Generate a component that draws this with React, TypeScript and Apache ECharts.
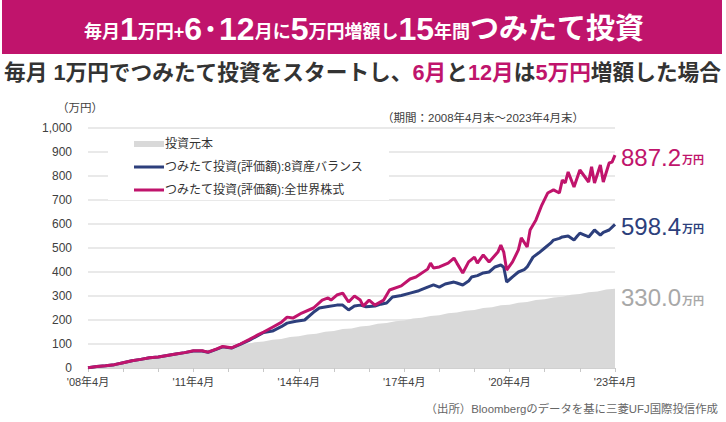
import React, { useEffect, useRef } from "react";
import * as echarts from "echarts";

const FONT = "'Liberation Sans', 'Noto Sans CJK JP', sans-serif";
const PINK = "#C0146C";
const NAVY = "#2D3F7C";
const GRAY_AREA = "#D9D9D9";
const GRAY_LABEL = "#A8A8A8";

// months since 2008/04
const principalMonths = [0,3,6,9,12,15,18,21,24,27,30,33,36,39,42,45,48,51,54,57,60,63,66,69,72,75,78,81,84,87,90,93,96,99,102,105,108,111,114,117,120,123,126,129,132,135,138,141,144,147,150,153,156,159,162,165,168,171,174,177,180];
const principalValues = [0,8,11,19,22,30,33,41,44,52,55,63,66,74,77,85,88,96,99,107,110,118,121,129,132,140,143,151,154,162,165,173,176,184,187,195,198,206,209,217,220,228,231,239,242,250,253,261,264,272,275,283,286,294,297,305,308,316,319,327,330];

const balanceMonths = [0,3,6,9,12,15,18,21,24,27,30,33,36,39,41,44,46,49,52,55,58,60,63,66,68,71,74,77,79,82,85,87,89,91,93,95,98,100,102,104,107,110,113,116,118,120,122,125,126,128,130,131,133,135,137,139,141,142,143,145,147,149,150,152,154,156,158,159,161,162,164,166,167,168,170,171,173,175,176,178,180];
const balanceValues = [1,6,9,14,22,30,36,43,46,52,58,64,71,71,65,79,88,83,98,115,135,148,154,172,187,195,200,232,250,256,262,262,242,258,262,255,258,266,271,296,302,312,322,337,346,337,350,358,354,346,362,379,385,396,400,421,429,420,358,380,400,410,421,462,480,500,520,533,540,546,550,533,548,562,552,546,575,554,565,575,598.4];

const worldMonths = [0,3,6,9,12,15,18,21,24,27,30,33,36,39,41,44,46,49,52,55,58,60,63,66,68,70,73,77,80,82,83,85,87,89,91,93,94,96,98,101,103,107,110,112,116,117,118,120,123,125,126,128,130,132,133,135,137,140,141,142,143,145,147,148,150,151,153,155,157,159,161,162,163,164,166,168,171,172,173,175,176,178,179,180];
const worldValues = [1,6,9,14,22,30,36,43,46,52,58,64,72,72,66,80,90,84,100,118,138,150,170,190,212,208,229,250,283,292,283,304,312,275,300,283,258,283,262,283,325,342,371,379,412,437,417,421,437,458,437,396,442,462,437,471,442,483,512,483,408,442,492,542,504,575,617,679,729,742,729,783,771,817,754,825,775,838,771,846,775,854,858,887.2];

const yTicks = [0, 100, 200, 300, 400, 500, 600, 700, 800, 900, 1000];
const xLabelYears = ["08", "11", "14", "17", "20", "23"];

const seriesNames = [
  "投資元本",
  "つみたて投資(評価額):8資産バランス",
  "つみたて投資(評価額):全世界株式",
];

const pairs = (ms: number[], vs: number[]) => ms.map((m, i) => [m, vs[i]]);

const endLabel = (color: string, offset: number[]) => ({
  show: true,
  distance: 6,
  offset,
  formatter: (p: any) => `{v|${Number(p.value[1]).toFixed(1)}}{u|万円}`,
  rich: {
    v: { fontSize: 24, color, fontFamily: FONT, padding: [0, 1, 0, 0] },
    u: { fontSize: 11, color, fontWeight: "bold", fontFamily: FONT, padding: [6, 0, 0, 0] },
  },
});

const LINE_ICON = "path://M0,0L0.01,0M0,1.5h30v3h-30zM30,6L29.99,6";

export default function App() {
  const ref = useRef<HTMLDivElement>(null);
  useEffect(() => {
    if (!ref.current) return;
    const chart = echarts.init(ref.current, null, { renderer: "svg" });
    chart.setOption({
      animation: false,
      backgroundColor: "#ffffff",
      textStyle: { fontFamily: FONT },
      grid: { left: 88, right: 111, top: 128, bottom: 54, containLabel: false },
      xAxis: {
        type: "value",
        min: 0,
        max: 180,
        interval: 12,
        axisLine: { show: true, lineStyle: { color: "#D0D0D0", width: 1 } },
        axisTick: { show: true, length: 4, lineStyle: { color: "#C8C8C8" } },
        splitLine: { show: false },
        axisLabel: {
          color: "#404040",
          fontSize: 11,
          margin: 8,
          formatter: (v: number) => {
            if (v % 36 !== 0) return "";
            return `'${xLabelYears[v / 36]}年4月`;
          },
        },
      },
      yAxis: {
        type: "value",
        min: yTicks[0],
        max: yTicks[yTicks.length - 1],
        interval: 100,
        axisLine: { show: false },
        axisTick: { show: false },
        splitLine: { lineStyle: { color: "#E2E2E2", width: 1.5 } },
        axisLabel: {
          color: "#404040",
          fontSize: 12,
          margin: 16,
          formatter: (v: number) => v.toLocaleString("en-US"),
        },
      },
      legend: {
        orient: "vertical",
        left: 108,
        top: 134,
        padding: [4, 26, 4, 26],
        backgroundColor: "#ffffff",
        itemWidth: 30,
        itemHeight: 6,
        itemGap: 11,
        textStyle: { fontSize: 12, color: "#333333", fontFamily: FONT, padding: [0, 0, 0, -4] },
        data: [
          { name: seriesNames[0], icon: "rect", itemStyle: { color: GRAY_AREA } },
          { name: seriesNames[1], icon: LINE_ICON },
          { name: seriesNames[2], icon: LINE_ICON },
        ],
      },
      graphic: [
        {
          type: "rect",
          shape: { x: 2, y: 0, width: 720, height: 54 },
          style: { fill: PINK },
          z: 10,
        },
        {
          type: "text",
          x: 364,
          y: 29,
          z: 11,
          style: {
            text: "{s|毎月}{b|1}{s|万円+}{b|6}{d|･}{b|12}{s|月に}{b|5}{s|万円増額し}{b|15}{s|年間}{c|つみたて投資}",
            align: "center",
            verticalAlign: "middle",
            fill: "#ffffff",
            rich: {
              s: { fontSize: 18, fontWeight: "bold", fill: "#ffffff", fontFamily: FONT, padding: [6, 0, 0, 0] },
              d: { fontSize: 30, fontWeight: "bold", fill: "#ffffff", fontFamily: FONT, padding: [0, 1, 0, 1] },
              b: { fontSize: 32, fontWeight: "bold", fill: "#ffffff", fontFamily: FONT },
              c: { fontSize: 29, fontWeight: "bold", fill: "#ffffff", fontFamily: FONT },
            },
          },
        },
        {
          type: "text",
          x: 4,
          y: 72,
          z: 11,
          style: {
            text: "{d|毎月 1万円でつみたて投資をスタートし、}{m|6月}{d|と}{m|12月}{d|は}{m|5万円}{d|増額した場合}",
            align: "left",
            verticalAlign: "middle",
            rich: {
              d: { fontSize: 21.7, fontWeight: "bold", fill: "#333333", fontFamily: FONT },
              m: { fontSize: 21.7, fontWeight: "bold", fill: PINK, fontFamily: FONT },
            },
          },
        },
        {
          type: "text",
          x: 80,
          y: 108,
          style: { text: "（万円）", align: "center", verticalAlign: "middle", fontSize: 11.5, fill: "#404040", fontFamily: FONT },
        },
        {
          type: "text",
          x: 584,
          y: 118,
          style: { text: "（期間：2008年4月末～2023年4月末）", align: "right", verticalAlign: "middle", fontSize: 11.5, fill: "#404040", fontFamily: FONT },
        },
        {
          type: "text",
          x: 718,
          y: 409,
          style: { text: "（出所）Bloombergのデータを基に三菱UFJ国際投信作成", align: "right", verticalAlign: "middle", fontSize: 11.4, fill: "#666666", fontFamily: FONT },
        },
      ],
      series: [
        {
          name: seriesNames[0],
          type: "line",
          data: pairs(principalMonths, principalValues),
          symbol: "none",
          color: GRAY_AREA,
          lineStyle: { width: 0, color: GRAY_AREA },
          areaStyle: { color: GRAY_AREA, opacity: 1 },
          endLabel: endLabel(GRAY_LABEL, [0, 9]),
          z: 1,
        },
        {
          name: seriesNames[1],
          type: "line",
          data: pairs(balanceMonths, balanceValues),
          symbol: "none",
          color: NAVY,
          lineStyle: { width: 3, color: NAVY },
          endLabel: endLabel(NAVY, [0, 2]),
          z: 3,
        },
        {
          name: seriesNames[2],
          type: "line",
          data: pairs(worldMonths, worldValues),
          symbol: "none",
          color: PINK,
          lineStyle: { width: 3, color: PINK },
          endLabel: endLabel(PINK, [0, 2]),
          z: 4,
        },
      ],
    });
    return () => chart.dispose();
  }, []);
  return (
    <div
      ref={ref}
      style={{ position: "absolute", left: 0, top: 0, width: 726, height: 422 }}
    />
  );
}
